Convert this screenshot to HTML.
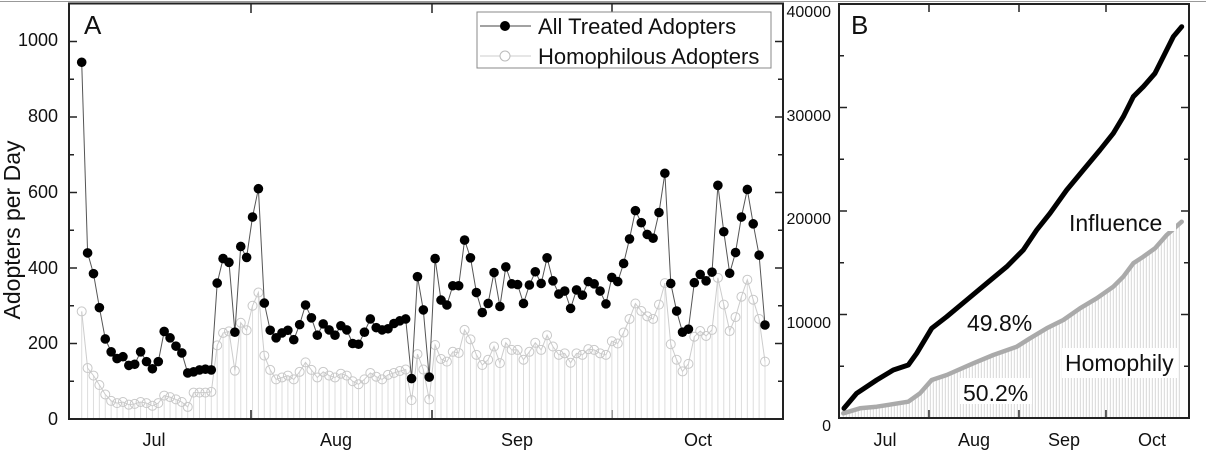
<!DOCTYPE html>
<html><head><meta charset="utf-8"><style>
html,body{margin:0;padding:0;background:#fff;}
svg{display:block;font-family:"Liberation Sans",sans-serif;}
</style></head><body>
<svg id="s" width="1206" height="451" viewBox="0 0 1206 451" xmlns="http://www.w3.org/2000/svg">
<line x1="0" y1="1.5" x2="1206" y2="1.5" stroke="#999" stroke-width="1"/>
<g id="a"></g>
<g id="b"></g>
<rect x="69" y="3.5" width="714" height="415.5" fill="none" stroke="#222" stroke-width="2"/>
<rect x="839" y="4" width="350" height="414" fill="none" stroke="#222" stroke-width="2"/>
<g font-size="18" fill="#111" text-anchor="end">
<text x="58" y="46">1000</text><text x="58" y="122">800</text><text x="58" y="198">600</text>
<text x="58" y="274">400</text><text x="58" y="349">200</text><text x="58" y="425">0</text>
</g>
<text transform="translate(20,230) rotate(-90)" font-size="23" text-anchor="middle" fill="#111">Adopters per Day</text>
<g font-size="18" fill="#111" text-anchor="middle">
<text x="154" y="446">Jul</text><text x="336" y="446">Aug</text><text x="517" y="446">Sep</text><text x="698" y="446">Oct</text>
<text x="885" y="446">Jul</text><text x="974" y="446">Aug</text><text x="1064" y="446">Sep</text><text x="1152" y="446">Oct</text>
</g>
<g font-size="16" fill="#111" text-anchor="end">
<text x="831" y="17">40000</text><text x="831" y="121">30000</text><text x="831" y="224">20000</text>
<text x="831" y="328">10000</text><text x="831" y="431">0</text>
</g>
<text x="84" y="34" font-size="26" fill="#111">A</text>
<text x="851" y="34" font-size="26" fill="#111">B</text>
<rect x="477" y="12" width="294" height="56" fill="#fff" stroke="#888" stroke-width="1"/>
<line x1="480" y1="26" x2="531" y2="26" stroke="#444" stroke-width="1"/>
<circle cx="505" cy="26" r="5" fill="#000"/>
<line x1="480" y1="56" x2="531" y2="56" stroke="#ccc" stroke-width="1"/>
<circle cx="505" cy="56" r="5" fill="#fff" stroke="#bbb"/>
<text x="538" y="34" font-size="22" fill="#111">All Treated Adopters</text>
<text x="538" y="64" font-size="22" fill="#111">Homophilous Adopters</text>
<rect x="1064" y="203" width="112" height="28" fill="#fff"/>
<text x="1069" y="231" font-size="23" fill="#111">Influence</text>
<text x="967" y="331" font-size="23" fill="#111">49.8%</text>
<rect x="1062" y="348" width="116" height="30" fill="#fff"/>
<text x="1065" y="371" font-size="23" fill="#111">Homophily</text>
<rect x="960" y="378" width="72" height="26" fill="#fff"/>
<text x="963" y="401" font-size="23" fill="#111">50.2%</text>
</svg>
<script>
var NS="http://www.w3.org/2000/svg";
function el(p,t,a){var e=document.createElementNS(NS,t);for(var k in a)e.setAttribute(k,a[k]);p.appendChild(e);return e;}
var A=document.getElementById('a'),B=document.getElementById('b');
var all=[945,440,385,295,212,178,160,165,142,145,178,152,133,152,232,215,193,175,122,125,130,132,130,360,425,415,230,457,428,535,610,307,235,215,228,235,210,250,302,268,222,252,236,222,247,236,200,198,230,265,242,
236,239,253,260,265,107,377,289,111,425,315,302,353,353,474,427,335,282,306,388,298,403,358,356,306,355,390,359,427,366,331,339,293,342,328,364,358,339,305,375,364,412,477,552,520,489,479,547,651,359,286,230,238,361,383,366,389,619,496,386,441,535,608,517,434,249];
var hom=[285,135,115,90,65,48,42,45,38,40,45,42,35,42,62,58,52,45,32,70,70,70,72,195,228,232,128,255,235,300,335,168,130,105,110,115,105,125,150,130,110,125,115,110,120,115,100,92,105,122,112,
105,117,122,127,131,50,172,131,52,196,159,152,178,175,236,211,170,143,157,192,148,202,183,183,157,178,202,183,222,192,170,174,149,174,170,185,183,174,170,206,200,229,265,306,286,272,265,303,360,198,157,126,146,218,233,220,236,374,303,233,270,324,369,316,265,152];
var n=all.length,x0=81.7,dx=(765-81.7)/(n-1);
function X(i){return x0+i*dx;} function Y(v){return 419-v*0.3775;}
for(var v=0;v<=1100;v+=100){var y=Y(v),L=(v%200==0)?8:5;el(A,'line',{x1:69,y1:y,x2:69+L,y2:y,stroke:'#222','stroke-width':1.5});el(A,'line',{x1:783,y1:y,x2:783-L,y2:y,stroke:'#222','stroke-width':1.5});}
[251,432,612].forEach(function(x){el(A,'line',{x1:x,y1:419,x2:x,y2:410,stroke:'#222','stroke-width':1.5});el(A,'line',{x1:x,y1:4,x2:x,y2:13,stroke:'#222','stroke-width':1.5});});
var p='';for(var i=0;i<n;i++){el(A,'line',{x1:X(i),y1:419,x2:X(i),y2:Y(hom[i]),stroke:'#ddd','stroke-width':1});p+=(i?'L':'M')+X(i).toFixed(1)+' '+Y(hom[i]).toFixed(1);}
el(A,'path',{d:p,fill:'none',stroke:'#ccc','stroke-width':1});
for(i=0;i<n;i++)el(A,'circle',{cx:X(i),cy:Y(hom[i]),r:4.5,fill:'none',stroke:'#c8c8c8','stroke-width':1});
p='';for(i=0;i<n;i++)p+=(i?'L':'M')+X(i).toFixed(1)+' '+Y(all[i]).toFixed(1);
el(A,'path',{d:p,fill:'none',stroke:'#555','stroke-width':1});
for(i=0;i<n;i++)el(A,'circle',{cx:X(i),cy:Y(all[i]),r:4.8,fill:'#000'});
for(v=0;v<=40000;v+=5000){var yy=418-v*0.01035,LL=(v%10000==0)?8:5;el(B,'line',{x1:839,y1:yy,x2:839+LL,y2:yy,stroke:'#222','stroke-width':1.5});el(B,'line',{x1:1189,y1:yy,x2:1189-LL,y2:yy,stroke:'#222','stroke-width':1.5});}
[929,1019,1106].forEach(function(x){el(B,'line',{x1:x,y1:418,x2:x,y2:410,stroke:'#222','stroke-width':1.5});el(B,'line',{x1:x,y1:4,x2:x,y2:12,stroke:'#222','stroke-width':1.5});});
var blk=[[252,1225],[290,1180],[350,1140],[400,1110],[445,1095],[470,1060],[515,985],[560,950],[620,900],[680,850],[740,800],[790,750],[830,690],[870,640],[920,570],[970,510],[1020,450],[1060,400],[1090,350],[1120,290],[1150,260],[1185,220],[1210,170],[1240,110],[1265,80]];
var gry=[[250,1240],[300,1225],[350,1220],[445,1205],[480,1180],[515,1140],[560,1125],[640,1090],[700,1065],[770,1040],[810,1015],[860,985],[910,960],[960,925],[1010,895],[1060,860],[1090,830],[1120,790],[1150,770],[1185,745],[1220,705],[1265,665]];
function cv(a){return a.map(function(q){return[760+q[0]/3,q[1]/3];});}
blk=cv(blk);gry=cv(gry);
function interp(arr,x){for(var k=0;k<arr.length-1;k++){if(x>=arr[k][0]&&x<=arr[k+1][0]){var t=(x-arr[k][0])/(arr[k+1][0]-arr[k][0]);return arr[k][1]+t*(arr[k+1][1]-arr[k][1]);}}return null;}
for(var x=gry[0][0];x<=gry[gry.length-1][0];x+=3){var gy=interp(gry,x);if(gy!==null)el(B,'line',{x1:x,y1:418,x2:x,y2:gy,stroke:'#d8d8d8','stroke-width':1});}
function pth(a){return a.map(function(q,k){return(k?'L':'M')+q[0].toFixed(1)+' '+q[1].toFixed(1);}).join('');}
el(B,'path',{d:pth(gry),fill:'none',stroke:'#aaa','stroke-width':4.5,'stroke-linejoin':'round','stroke-linecap':'round'});
el(B,'path',{d:pth(blk),fill:'none',stroke:'#000','stroke-width':5,'stroke-linejoin':'round','stroke-linecap':'round'});
</script>
</body></html>
